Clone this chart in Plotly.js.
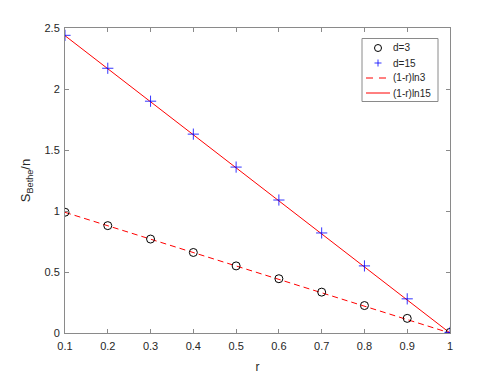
<!DOCTYPE html>
<html>
<head>
<meta charset="utf-8">
<script src="https://cdn.plot.ly/plotly-3.0.1.min.js"></script>
<style>
  html, body { margin: 0; padding: 0; background: #fff; }
  #chart { width: 498px; height: 374px; }
</style>
</head>
<body>
<div id="chart"></div>
<script>
'use strict';

// r values on the x axis
const rVals = [0.1, 0.2, 0.3, 0.4, 0.5, 0.6, 0.7, 0.8, 0.9, 1.0];
// simulated S_Bethe / n
const d3Vals = [0.99, 0.88, 0.77, 0.66, 0.55, 0.445, 0.335, 0.225, 0.12, 0.005];
const d15Vals = [2.44, 2.17, 1.90, 1.63, 1.36, 1.09, 0.82, 0.55, 0.28, 0.005];
// reference curves (1-r)ln3 and (1-r)ln15 at the same r
const ln3Line = [0.989, 0.879, 0.769, 0.659, 0.549, 0.439, 0.330, 0.220, 0.110, 0];
const ln15Line = [2.437, 2.166, 1.896, 1.625, 1.354, 1.083, 0.812, 0.542, 0.271, 0];
const xTicks = [0.1, 0.2, 0.3, 0.4, 0.5, 0.6, 0.7, 0.8, 0.9, 1];
const xTickText = ['0.1', '0.2', '0.3', '0.4', '0.5', '0.6', '0.7', '0.8', '0.9', '1'];
const yTicks = [0, 0.5, 1, 1.5, 2, 2.5];
const yTickText = ['0', '0.5', '1', '1.5', '2', '2.5'];
const legendNames = ['d=3', 'd=15', '(1-r)ln3', '(1-r)ln15'];

const FONT = 'Liberation Sans, Arial, sans-serif';
const INK = '#262626';
const AXIS = '#8a8a8a';
const RED = '#ff0000';
const BLUE = '#0000ff';

// plot area in page pixels (matches the margins below)
const PA = { l: 65, r: 450, t: 28, b: 333 };
const px = v => (v - PA.l) / (PA.r - PA.l);
const py = v => (PA.b - v) / (PA.b - PA.t);

const traces = [
  {
    type: 'scatter', mode: 'lines', name: '(1-r)ln3',
    x: rVals, y: ln3Line,
    line: { color: RED, width: 1, dash: '6px,4px' },
  },
  {
    type: 'scatter', mode: 'lines', name: '(1-r)ln15',
    x: rVals, y: ln15Line,
    line: { color: RED, width: 1 },
  },
  {
    type: 'scatter', mode: 'markers', name: 'd=3',
    x: rVals, y: d3Vals,
    marker: { symbol: 'circle-open', size: 8, color: '#000', line: { width: 1, color: '#000' } },
  },
  {
    type: 'scatter', mode: 'markers', name: 'd=15',
    x: rVals, y: d15Vals,
    marker: { symbol: 'cross-thin-open', size: 8, color: BLUE, line: { width: 0.8, color: BLUE } },
  },
];

/* --- hand-built legend box (MATLAB-style compact rows) --- */
const LEG = { left: 362, right: 438, top: 38.5, bottom: 101.5, symX: 378, line0: 366, line1: 390, textX: 391 };
const rowY = [48, 63, 78, 93];
const shapes = [
  { type: 'rect', xref: 'paper', yref: 'paper', x0: px(LEG.left), x1: px(LEG.right),
    y0: py(LEG.bottom), y1: py(LEG.top), fillcolor: '#fff', line: { color: AXIS, width: 1 } },
  // circle sample
  { type: 'circle', xref: 'paper', yref: 'paper', xsizemode: 'pixel', ysizemode: 'pixel',
    xanchor: px(LEG.symX), yanchor: py(rowY[0]), x0: -3.5, x1: 3.5, y0: -3.5, y1: 3.5,
    line: { color: '#000', width: 1 } },
  // plus sample
  { type: 'line', xref: 'paper', yref: 'paper', x0: px(LEG.symX - 3.5), x1: px(LEG.symX + 3.5),
    y0: py(rowY[1]), y1: py(rowY[1]), line: { color: BLUE, width: 0.8 } },
  { type: 'line', xref: 'paper', yref: 'paper', x0: px(LEG.symX), x1: px(LEG.symX),
    y0: py(rowY[1] - 3.5), y1: py(rowY[1] + 3.5), line: { color: BLUE, width: 0.8 } },
  // dashed and solid line samples
  { type: 'line', xref: 'paper', yref: 'paper', x0: px(LEG.line0), x1: px(LEG.line1),
    y0: py(rowY[2]), y1: py(rowY[2]), line: { color: RED, width: 1, dash: '7px,6px' } },
  { type: 'line', xref: 'paper', yref: 'paper', x0: px(LEG.line0), x1: px(LEG.line1),
    y0: py(rowY[3]), y1: py(rowY[3]), line: { color: RED, width: 1 } },
];
const annotations = legendNames.map((name, i) => ({
  xref: 'paper', yref: 'paper', x: px(LEG.textX), y: py(rowY[i]),
  xanchor: 'left', yanchor: 'middle', showarrow: false, text: name,
  font: { family: FONT, size: 10, color: INK },
}));

const axisBase = {
  showline: true, linecolor: AXIS, linewidth: 1, mirror: 'ticks',
  ticks: 'inside', ticklen: 4, tickcolor: AXIS, tickwidth: 1,
  showgrid: false, zeroline: false,
  tickfont: { family: FONT, size: 11, color: INK },
};

const layout = {
  width: 498, height: 374,
  margin: { l: PA.l, r: 498 - PA.r, t: PA.t, b: 374 - PA.b },
  paper_bgcolor: '#fff', plot_bgcolor: '#fff',
  font: { family: FONT, color: INK },
  showlegend: false,
  shapes, annotations,
  xaxis: Object.assign({}, axisBase, {
    range: [0.1, 1], tickvals: xTicks, ticktext: xTickText, ticklabelstandoff: 3,
    title: { text: 'r', font: { family: FONT, size: 12, color: INK }, standoff: 12 },
  }),
  yaxis: Object.assign({}, axisBase, {
    range: [0, 2.5], tickvals: yTicks, ticktext: yTickText, ticklabelstandoff: 2,
    title: { text: 'S<sub>Bethe</sub>/n', font: { family: FONT, size: 13, color: INK }, standoff: 10 },
  }),
};

Plotly.newPlot('chart', traces, layout, { staticPlot: true, displayModeBar: false });
</script>
</body>
</html>
